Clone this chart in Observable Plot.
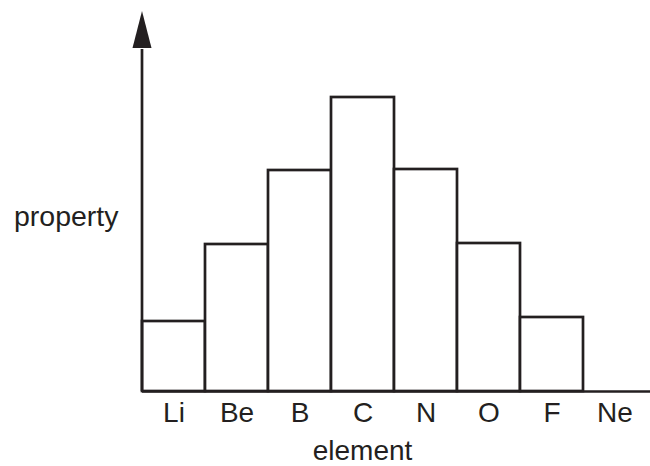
<!DOCTYPE html>
<html>
<head>
<meta charset="utf-8">
<script src="https://cdn.jsdelivr.net/npm/d3@7"></script>
<script src="https://cdn.jsdelivr.net/npm/@observablehq/plot@0.6"></script>
<style>
  html, body { margin: 0; padding: 0; background: #fff; }
  svg { display: block; }
</style>
</head>
<body>
<div id="chart"></div>
<script>
const elements = ["Li", "Be", "B", "C", "N", "O", "F", "Ne"];
const values = [70, 147, 221, 294, 222, 148, 74, 0];
const yMax = 380;
const arrowBase = 343;
const xTitle = "element";
const yTitle = "property";

const data = elements.map((e, i) => ({element: e, value: values[i]}));
const ink = "#231f20";

const axisArrow = (index, {x, y}) => {
  const g = d3.create("svg:g");
  const x0 = x(elements[0]);
  g.append("line")
    .attr("x1", x0).attr("x2", x0)
    .attr("y1", y(0)).attr("y2", y(arrowBase) + 1)
    .attr("stroke", ink).attr("stroke-width", 2.7);
  g.append("path")
    .attr("d", `M${x0},${y(yMax)}L${x0 - 9.5},${y(arrowBase)}L${x0 + 9.5},${y(arrowBase)}Z`)
    .attr("fill", ink);
  return g.node();
};

const chart = Plot.plot({
  width: 650,
  height: 466,
  marginLeft: 142,
  marginRight: 0,
  marginTop: 11,
  marginBottom: 75,
  style: {fontFamily: "'Liberation Sans', Arial, sans-serif", color: ink, background: "#fff"},
  x: {domain: elements, range: [142, 646], padding: 0, axis: null},
  y: {domain: [0, yMax], axis: null},
  marks: [
    Plot.barY(data, {x: "element", y: "value", fill: "white", stroke: ink, strokeWidth: 2.7}),
    Plot.ruleY([0], {stroke: ink, strokeWidth: 2.7}),
    axisArrow,
    Plot.text(elements, {x: d => d, frameAnchor: "bottom", dy: 22, fontSize: 28, lineAnchor: "middle", fill: ink}),
    Plot.text([xTitle], {frameAnchor: "bottom", dx: -34, dy: 60, fontSize: 28, lineAnchor: "middle", fill: ink}),
    Plot.text([yTitle], {frameAnchor: "left", textAnchor: "end", dx: -24, dy: 15, fontSize: 28.5, lineAnchor: "middle", fill: ink})
  ]
});
document.getElementById("chart").append(chart);
</script>
</body>
</html>
